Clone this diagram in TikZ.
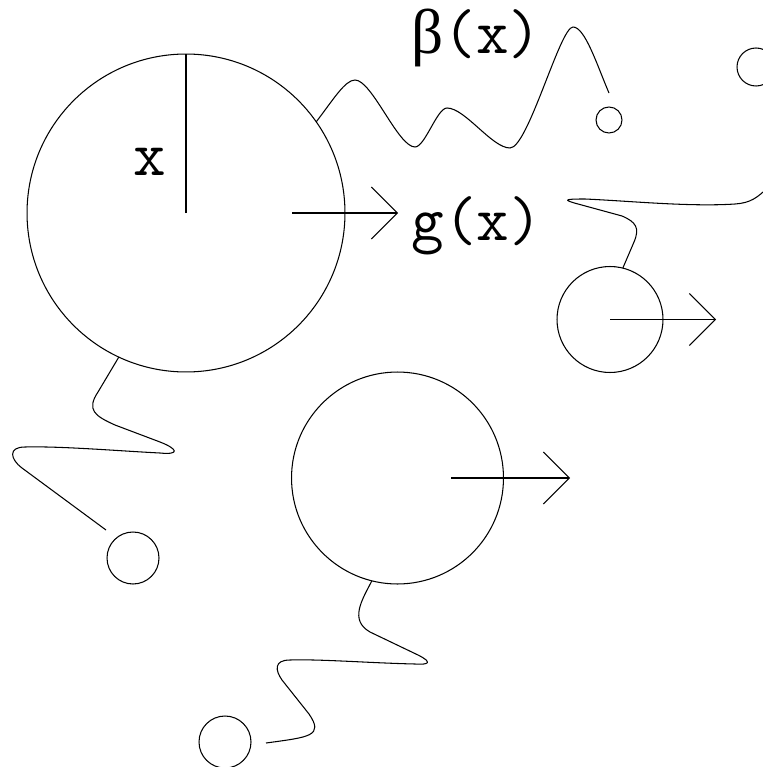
\documentclass[tikz,border=0pt]{standalone}
\usepackage{fontspec}
\newfontfamily\grkfont{Liberation Serif}
\usetikzlibrary{arrows.meta,calc}

\begin{document}
\begin{tikzpicture}[
  x=0.02cm,y=-0.02cm,line width=0.6pt,
  font=\fontsize{36}{40}\selectfont\ttfamily,
  ball/.style={draw,circle,inner sep=0pt,outer sep=0pt},
  arr/.style={-{Straight Barb[length=0.52cm,width=1.04cm]}}
]
\useasboundingbox (0,0) rectangle (763,767);
\clip (0,0) rectangle (763,767);
% circles
\node[ball,minimum size=6.36cm] (big) at (186,213) {};
\node[ball,minimum size=4.24cm] (mid) at (397.5,478) {};
\node[ball,minimum size=2.12cm] (rgt) at (610,319.5) {};
\node[ball,minimum size=0.52cm] (tipA) at (609,120) {};
\node[ball,minimum size=1.04cm] (tipB) at (133,558) {};
\node[ball,minimum size=1.04cm] (tipC) at (225,742) {};
\node[ball,minimum size=0.76cm] (tipD) at (756,67) {};
% labels
\node[anchor=base] (lx) at (150,175) {x};
\node[anchor=base west,inner sep=0pt] (lg) at (411,240) {g(x)};
\node[anchor=base west,inner sep=0pt] (lb) at (411,54) {{\grkfont β}(x)};
% radius and arrows
\draw (big.center) -- (big.north);
\draw[arr] ($(big)+(106,0)$) -- ($(big)+(212,0)$);
\draw[arr] ($(mid)+(53.5,0)$) -- ($(mid)+(172.5,0)$);
\draw[arr] (rgt.center) -- ($(rgt)+(106,0)$);
% free ends
\coordinate (eA) at (609,93);
\coordinate (eB) at (106,530);
\coordinate (eC) at (266,743);
\coordinate (eD) at (770,185);
% wiggles
\draw (big.35) .. controls (333,100) and (345,80) .. (355,80)
  .. controls (372,80) and (398,147) .. (415,147)
  .. controls (425,147) and (437,108) .. (447,108)
  .. controls (465,108) and (492,148) .. (510,148)
  .. controls (528,148) and (560,27) .. (573,27)
  .. controls (585,27) and (597,65) .. (eA);
\draw (big.245) -- (98,392) .. controls (86,410) and (95,416) .. (115,425)
  -- (160,442) .. controls (178,449) and (180,455) .. (160,453)
  .. controls (120,451) and (60,446) .. (25,447)
  .. controls (8,447) and (10,459) .. (22,468) -- (eB);
\draw (mid.256) .. controls (362,600) and (349,620) .. (370,632)
  -- (418,655) .. controls (432,662) and (430,665) .. (415,664)
  .. controls (370,663) and (320,659) .. (290,660)
  .. controls (274,660) and (275,670) .. (282,680)
  -- (309,714) .. controls (324,736) and (310,737) .. (eC);
\draw (rgt.76) -- (634,242) .. controls (640,228) and (636,222) .. (622,216)
  -- (578,204) .. controls (561,199.5) and (566,199) .. (585,199)
  .. controls (630,201) and (690,207) .. (735,204)
  .. controls (750,203) and (758,198) .. (eD);
\end{tikzpicture}
\end{document}
